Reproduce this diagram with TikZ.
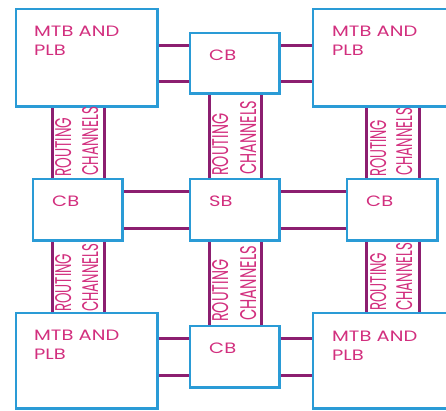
\documentclass[tikz,border=0pt]{standalone}
\usepackage{fontspec}
\usepackage{graphicx}
\setmainfont{Poppins}
\definecolor{boxblue}{HTML}{2A9BD6}
\definecolor{chanpurple}{HTML}{8C1F70}
\definecolor{txtmag}{HTML}{D22F7E}
\tikzset{
  blk/.style={draw=boxblue, line width=2.4pt, rectangle, inner sep=0pt, anchor=north west},
  openblk/.style={rectangle, inner sep=0pt, anchor=north west},
  chan/.style={draw=chanpurple, line width=3pt},
  edge/.style={draw=boxblue, line width=2.4pt},
  lbl/.style={text=txtmag, inner sep=0pt, anchor=north west, align=left, font=\fontsize{15}{19}\selectfont},
  rot/.style={text=txtmag, inner sep=0pt, rotate=90, anchor=north west}
}
\newcommand{\rtext}[2]{\resizebox{#1}{16pt}{#2}}
\newcommand{\wtx}[1]{\scalebox{1.3}[1]{#1}}
\begin{document}
\begin{tikzpicture}[x=1pt,y=-1pt]
\useasboundingbox (0,0) rectangle (446,410);
% blocks
\node[openblk, minimum width=141pt, minimum height=97pt] (tl) at (16,9) {};
\node[openblk, minimum width=133pt, minimum height=97pt] (tr) at (313,9) {};
\node[openblk, minimum width=141pt, minimum height=95pt] (bl) at (16,313) {};
\node[openblk, minimum width=133pt, minimum height=95pt] (br) at (313,313) {};
\node[openblk, minimum width=89pt, minimum height=60pt] (cbt) at (190,33) {};
\node[openblk, minimum width=89pt, minimum height=61pt] (cbl) at (33,179) {};
\node[openblk, minimum width=89pt, minimum height=61pt] (sb) at (190,179) {};
\node[openblk, minimum width=90pt, minimum height=61pt] (cbr) at (347,179) {};
\node[openblk, minimum width=89pt, minimum height=61pt] (cbb) at (190,326) {};
% horizontal channels
\foreach \n/\a/\b in {cbt/tl/tr, sb/cbl/cbr, cbb/bl/br}{
  \draw[chan] ([yshift=-12pt]\n.north west) -- ([yshift=-12pt]\n.north west -| \a.east);
  \draw[chan] ([yshift=12pt]\n.south west) -- ([yshift=12pt]\n.south west -| \a.east);
  \draw[chan] ([yshift=-12pt]\n.north east) -- ([yshift=-12pt]\n.north east -| \b.west);
  \draw[chan] ([yshift=12pt]\n.south east) -- ([yshift=12pt]\n.south east -| \b.west);
}
% vertical channels
\foreach \n/\a/\b in {cbl/tl/bl, sb/cbt/cbb, cbr/tr/br}{
  \draw[chan] ([xshift=19pt]\n.north west) -- ([xshift=19pt]\n.north west |- \a.south);
  \draw[chan] ([xshift=-18pt]\n.north east) -- ([xshift=-18pt]\n.north east |- \a.south);
  \draw[chan] ([xshift=19pt]\n.south west) -- ([xshift=19pt]\n.south west |- \b.north);
  \draw[chan] ([xshift=-18pt]\n.south east) -- ([xshift=-18pt]\n.south east |- \b.north);
}
% block outlines
\foreach \n in {tl,bl,cbt,cbl,sb,cbr,cbb}{
  \draw[edge] (\n.north west) rectangle (\n.south east);
}
\draw[edge] ([xshift=2pt]tr.north east) -- (tr.north west) -- (tr.south west) -- ([xshift=2pt]tr.south east);
\draw[edge] ([xshift=2pt]br.north east) -- (br.north west) -- (br.south west) -- ([xshift=2pt]br.south east);
% block labels
\node[lbl] (ttl) at (34,26) {\wtx{MTB AND}\\\wtx{PLB}};
\node[lbl] (ttr) at (332,26) {\wtx{MTB AND}\\\wtx{PLB}};
\node[lbl] (tbl) at (34,330) {\wtx{MTB AND}\\\wtx{PLB}};
\node[lbl] (tbr) at (332,331) {\wtx{MTB AND}\\\wtx{PLB}};
\node[lbl] (tcbt) at (209,50) {\wtx{CB}};
\node[lbl] (tcbl) at (52,196) {\wtx{CB}};
\node[lbl] (tsb) at (209,196) {\wtx{SB}};
\node[lbl] (tcbr) at (366,196) {\wtx{CB}};
\node[lbl] (tcbb) at (209,343) {\wtx{CB}};
% routing channel labels
\node[rot] (r1) at (55,177) {\rtext{59pt}{ROUTING}};
\node[rot] (c1) at (82,176) {\rtext{69pt}{CHANNELS}};
\node[rot] (r2) at (212,176) {\rtext{62pt}{ROUTING}};
\node[rot] (c2) at (240,175) {\rtext{74pt}{CHANNELS}};
\node[rot] (r3) at (370,177) {\rtext{57pt}{ROUTING}};
\node[rot] (c3) at (396,176) {\rtext{68pt}{CHANNELS}};
\node[rot] (r4) at (55,312) {\rtext{58pt}{ROUTING}};
\node[rot] (c4) at (82,312) {\rtext{68pt}{CHANNELS}};
\node[rot] (r5) at (212,322) {\rtext{62pt}{ROUTING}};
\node[rot] (c5) at (240,321) {\rtext{75pt}{CHANNELS}};
\node[rot] (r6) at (370,311) {\rtext{58pt}{ROUTING}};
\node[rot] (c6) at (396,311) {\rtext{68pt}{CHANNELS}};
\end{tikzpicture}
\end{document}
